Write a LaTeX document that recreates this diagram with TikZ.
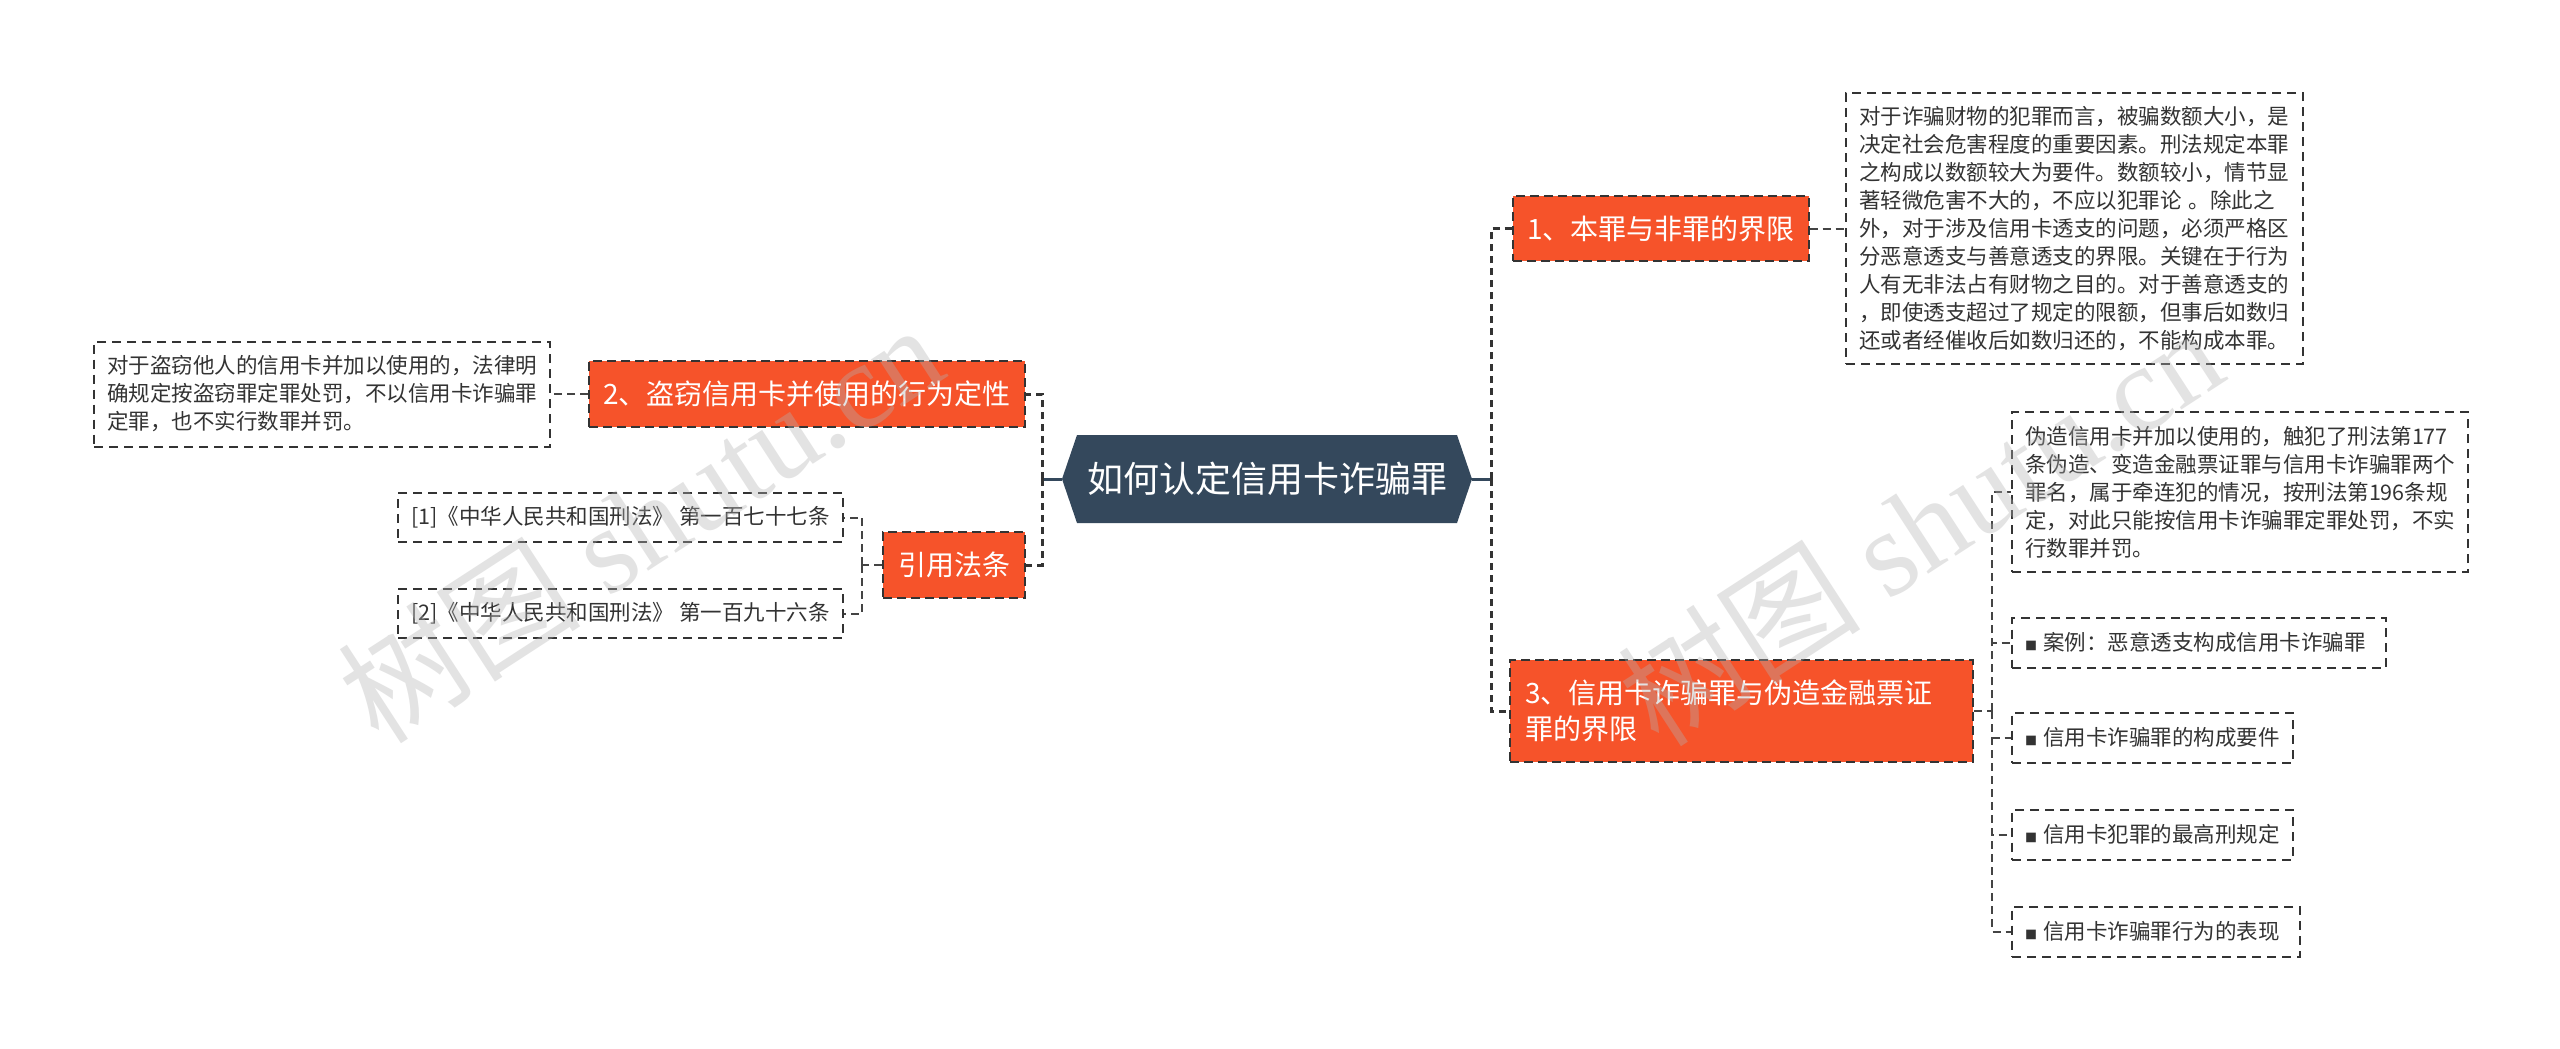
\documentclass[tikz,border=0pt]{standalone}
\usepackage{fontspec}
\setmainfont{Noto Sans CJK SC}
\newfontfamily\wmserif{Liberation Serif}
\usetikzlibrary{calc}
\definecolor{orng}{RGB}{246,83,42}
\definecolor{slate}{RGB}{52,72,92}
\definecolor{ink}{RGB}{51,51,51}
\definecolor{lineg}{RGB}{68,68,68}
\newcommand\sqb{{\fontsize{12}{12}\selectfont ■}\hspace{6pt}}
\tikzset{
  box/.style={draw=ink, line width=2pt, dash pattern=on 9pt off 6pt, text=ink,
    font=\fontsize{21.5}{28}\selectfont, inner xsep=13pt, inner ysep=0pt, align=left, anchor=west},
  topic/.style={fill=orng, draw=ink, line width=2pt, dash pattern=on 9pt off 5pt, text=white,
    font=\fontsize{28}{36}\selectfont, inner xsep=14pt, inner ysep=0pt, anchor=west},
  conn/.style={draw=lineg, line width=2pt, dash pattern=on 8pt off 5pt},
  trunkdash/.style={draw=ink, line width=3pt, dash pattern=on 7pt off 5pt},
  trunk/.style={draw=slate, line width=3pt},
  wm/.style={text=gray!60, text opacity=0.36, rotate=33, font=\fontsize{122}{122}\selectfont}
}
\begin{document}
\begin{tikzpicture}[x=1pt,y=-1pt]
\fill[white] (0,0) rectangle (2560,1049);
\useasboundingbox (0,0) rectangle (2560,1049);

% central topic
\fill[slate] (1062,479) -- (1077,435) -- (1457,435) -- (1472,479) -- (1457,523) -- (1077,523) -- cycle;
\node[text=white, font=\fontsize{36}{44}\selectfont, inner sep=0pt] (ctr) at (1267,479) {如何认定信用卡诈骗罪};
\coordinate (cL) at (1062,479);
\coordinate (cR) at (1472,479);
\coordinate (busL) at (1042,479);
\coordinate (busR) at (1491,479);

% main topics
\node[topic, minimum width=294pt, minimum height=65pt] (n1) at (1512,228.5) {1、本罪与非罪的界限};
\node[topic, minimum width=434pt, minimum height=66pt] (n2) at (588,394) {2、盗窃信用卡并使用的行为定性};
\node[topic, minimum width=142pt, minimum height=66pt] (ref) at (882,565) {引用法条};
\node[topic, minimum width=463pt, minimum height=102pt, text width=433pt, inner xsep=15pt, align=left] (n3) at (1509,711) {3、信用卡诈骗罪与伪造金融票证\\罪的界限};

% detail boxes
\node[box, text width=431pt, minimum height=271pt] (d1) at (1845,228.5) {对于诈骗财物的犯罪而言，被骗数额大小，是\\决定社会危害程度的重要因素。刑法规定本罪\\之构成以数额较大为要件。数额较小，情节显\\著轻微危害不大的，不应以犯罪论 。除此之\\外，对于涉及信用卡透支的问题，必须严格区\\分恶意透支与善意透支的界限。关键在于行为\\人有无非法占有财物之目的。对于善意透支的\\，即使透支超过了规定的限额，但事后如数归\\还或者经催收后如数归还的，不能构成本罪。};
\node[box, text width=430pt, minimum height=105pt] (d2) at (93,394) {对于盗窃他人的信用卡并加以使用的，法律明\\确规定按盗窃罪定罪处罚，不以信用卡诈骗罪\\定罪，也不实行数罪并罚。};
\node[box, text width=430pt, minimum height=160pt] (d3) at (2011,492) {伪造信用卡并加以使用的，触犯了刑法第177\\条伪造、变造金融票证罪与信用卡诈骗罪两个\\罪名，属于牵连犯的情况，按刑法第196条规\\定，对此只能按信用卡诈骗罪定罪处罚，不实\\行数罪并罚。};

\node[box, minimum width=445pt, minimum height=49pt, align=center] (r1) at (397,517.5) {[1]《中华人民共和国刑法》 第一百七十七条};
\node[box, minimum width=445pt, minimum height=49pt, align=center] (r2) at (397,613.5) {[2]《中华人民共和国刑法》 第一百九十六条};

\node[box, text width=348pt, minimum height=50pt] (s1) at (2011,642.5) {\sqb 案例：恶意透支构成信用卡诈骗罪};
\node[box, text width=255pt, minimum height=50pt] (s2) at (2011,737.5) {\sqb 信用卡诈骗罪的构成要件};
\node[box, text width=255pt, minimum height=50pt] (s3) at (2011,834.5) {\sqb 信用卡犯罪的最高刑规定};
\node[box, text width=262pt, minimum height=50pt] (s4) at (2011,931.5) {\sqb 信用卡诈骗罪行为的表现};

\coordinate (busRef) at (862,565);
\coordinate (bus3) at (1992,711);

% connectors
\draw[trunk] (cL) -- (busL);
\draw[trunk] (cR) -- (busR);
\draw[trunkdash] (busL) |- (n2.east);
\draw[trunkdash] (busL) |- (ref.east);
\draw[trunkdash] (busR) |- (n1.west);
\draw[trunkdash] (busR) |- (n3.west);

\draw[conn] (n1.east) -- (d1.west);
\draw[conn] (n2.west) -- (d2.east);
\draw[conn] (ref.west) -- (busRef);
\draw[conn] (busRef) |- (r1.east);
\draw[conn] (busRef) |- (r2.east);
\draw[conn] (n3.east) -- (bus3);
\draw[conn] (bus3) |- (d3.west);
\draw[conn] (bus3) |- (s1.west);
\draw[conn] (bus3) |- (s2.west);
\draw[conn] (bus3) |- (s3.west);
\draw[conn] (bus3) |- (s4.west);

% watermarks
\node[wm] (w1) at (640,522) {树图 {\wmserif shutu.cn}};
\node[wm] (w2) at (1920,525) {树图 {\wmserif shutu.cn}};
\end{tikzpicture}
\end{document}
